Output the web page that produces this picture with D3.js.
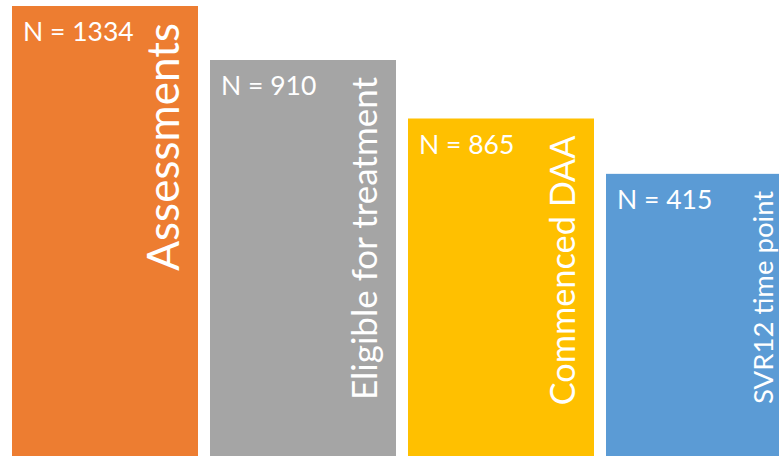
<!DOCTYPE html>
<html><head><meta charset="utf-8">
<script src="https://cdn.jsdelivr.net/npm/d3@7"></script>
<style>html,body{margin:0;padding:0;background:#fff;overflow:hidden}</style>
</head><body><svg id="c" width="779" height="456"></svg>
<script>
// ---- data ----
const stages = ["Assessments", "Eligible for treatment", "Commenced DAA", "SVR12 time point"];
const counts = [1334, 910, 865, 415];
const levels = [100, 88, 75, 62.7];   // bar height relative to the first bar (%)

// ---- style ----
const colors = ["#ED7D31", "#A5A5A5", "#FFC000", "#5B9BD5"];
const stageFont = [44, 35, 34.3, 27.5];
const FONT = "Lato, 'Open Sans', sans-serif";

const W = 779, H = 456;
const rows = stages.map((s, i) => ({stage: s, n: counts[i], level: levels[i], color: colors[i], fs: stageFont[i]}));

const x = d3.scaleBand().domain(stages).range([12, 792]).paddingInner(0.0606).paddingOuter(0);
const y = d3.scaleLinear().domain([0, 100]).range([H, 6]);

const svg = d3.select("#c");
const g = svg.selectAll("g.stage").data(rows).join("g").attr("class", "stage");

g.append("rect")
  .attr("x", d => x(d.stage))
  .attr("y", d => y(d.level))
  .attr("width", x.bandwidth())
  .attr("height", d => y(0) - y(d.level))
  .attr("fill", d => d.color);

g.append("text")
  .attr("x", d => x(d.stage) + 11)
  .attr("y", d => y(d.level) + 35)
  .attr("fill", "#fff")
  .style("font-family", FONT)
  .style("font-size", "26.5px")
  .text(d => "N = " + d.n);

g.append("text")
  .attr("transform", d => `translate(${x(d.stage) + 167},${y(d.level) + 17}) rotate(-90)`)
  .attr("text-anchor", "end")
  .attr("fill", "#fff")
  .style("font-family", FONT)
  .style("font-size", d => d.fs + "px")
  .text(d => d.stage);
</script>
</body></html>
